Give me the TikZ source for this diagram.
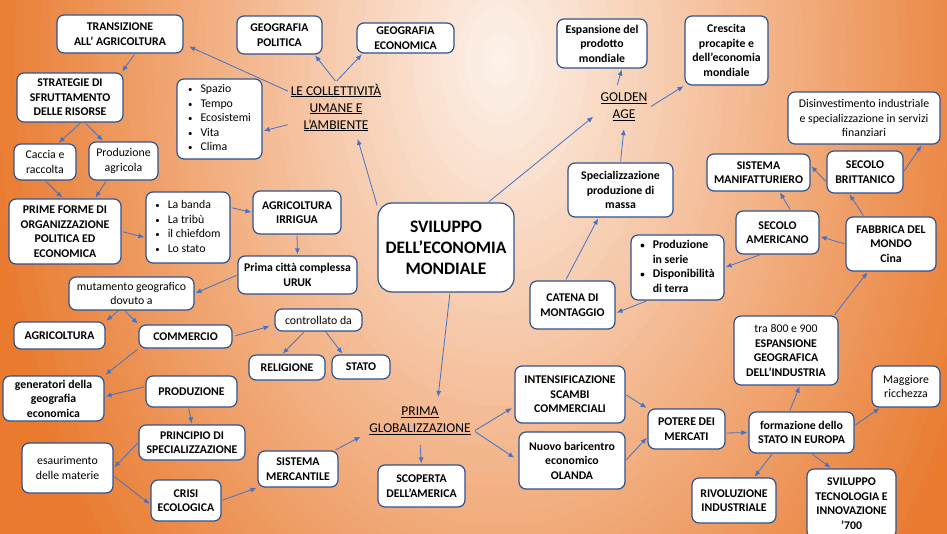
\documentclass[tikz,border=0pt]{standalone}
\usepackage{fontspec}
\setmainfont{Carlito}
\usetikzlibrary{arrows.meta}
\definecolor{boxc}{RGB}{47,82,143}
\definecolor{arrc}{RGB}{68,114,196}
\definecolor{bgorange}{RGB}{233,122,46}
\definecolor{bglight}{RGB}{253,243,236}
\newcommand{\bx}[7]{\node[#6,minimum width={(#4)-(#2)},minimum height={(#5)-(#3)}] (#1) at ({((#2)+(#4))/2},{((#3)+(#5))/2}) {#7};}
\newcommand{\blist}[1]{\begin{tabular}{@{}l@{\hspace{8pt}}l@{}}#1\end{tabular}}
\newcommand{\bul}{\scalebox{0.75}{\textbullet}}
\begin{document}
\begin{tikzpicture}[x=1pt,y=-1pt,
  box/.style={draw=boxc,line width=1.2pt,fill=white,rounded corners=7pt,align=center,inner sep=1pt,text=black,font=\fontsize{11.8}{14.5}\selectfont\bfseries},
  nbox/.style={box,font=\fontsize{11.8}{14.5}\selectfont},
  ul/.style={align=center,inner sep=0pt,text=black,font=\fontsize{13.5}{17}\selectfont},
  arr/.style={draw=arrc,line width=0.8pt,-{Latex[length=6pt,width=5pt]},shorten >=1pt,shorten <=1pt}]
\begin{scope}
\clip (0,0) rectangle (947,534);
\fill[bgorange] (0,0) rectangle (947,534);
\foreach \i in {0,...,59}{
  \pgfmathsetmacro\dd{1-\i/60}
  \pgfmathtruncatemacro\pp{100*\dd}
  \fill[bgorange!\pp!bglight] (500,60) ellipse [x radius={520*\dd}, y radius={800*\dd}];
}
\end{scope}
\useasboundingbox (0,0) rectangle (947,534);

\bx{trans}{57}{15}{183}{53}{box}{TRANSIZIONE\\ALL’ AGRICOLTURA}
\bx{geopol}{237}{16}{322}{54}{box}{GEOGRAFIA\\POLITICA}
\bx{geoeco}{357}{23}{454}{53}{box}{GEOGRAFIA\\ECONOMICA}
\bx{strat}{17}{73}{123}{122}{box}{STRATEGIE DI\\SFRUTTAMENTO\\DELLE RISORSE}
\bx{spazio}{177}{79}{262}{159}{nbox}{\blist{\bul&Spazio\\\bul&Tempo\\\bul&Ecosistemi\\\bul&Vita\\\bul&Clima}}
\bx{coll}{289}{82}{383}{133}{ul}{\underline{LE COLLETTIVITÀ}\\\underline{UMANE E}\\\underline{L’AMBIENTE}}
\bx{caccia}{14}{144}{76}{180}{nbox}{Caccia e\\raccolta}
\bx{prodag}{89}{142}{158}{180}{nbox}{Produzione\\agricola}
\bx{prime}{9}{199}{121}{264}{box}{PRIME FORME DI\\ORGANIZZAZIONE\\POLITICA ED\\ECONOMICA}
\bx{banda}{146}{192}{230}{263}{nbox}{\blist{\bul&La banda\\\bul&La tribù\\\bul&il chiefdom\\\bul&Lo stato}}
\bx{irrig}{253}{191}{341}{234}{box}{AGRICOLTURA\\IRRIGUA}
\bx{uruk}{238}{256}{357}{294}{box}{Prima città complessa\\URUK}
\bx{svil}{378}{203}{514}{292}{box,rounded corners=14pt,font=\fontsize{17.5}{21}\selectfont\bfseries}{SVILUPPO\\DELL’ECONOMIA\\MONDIALE}
\bx{mutam}{69}{277}{194}{310}{nbox}{mutamento geografico\\dovuto a}
\bx{agri}{14}{322}{105}{349}{box}{AGRICOLTURA}
\bx{comm}{139}{325}{232}{348}{box}{COMMERCIO}
\bx{contr}{275}{309}{362}{331}{nbox}{controllato da}
\bx{relig}{249}{355}{325}{380}{box}{RELIGIONE}
\bx{stato}{332}{355}{390}{379}{box}{STATO}
\bx{gener}{3}{376}{104}{421}{box}{generatori della\\geografia\\economica}
\bx{produz}{146}{376}{237}{407}{box}{PRODUZIONE}
\bx{princ}{139}{425}{245}{460}{box}{PRINCIPIO DI\\SPECIALIZZAZIONE}
\bx{esaur}{22}{443}{113}{493}{nbox}{esaurimento\\delle materie}
\bx{crisi}{151}{480}{221}{521}{box}{CRISI\\ECOLOGICA}
\bx{merc}{258}{451}{338}{487}{box}{SISTEMA\\MERCANTILE}
\bx{glob}{366}{398}{474}{444}{ul}{\underline{PRIMA}\\\underline{GLOBALIZZAZIONE}}
\bx{scop}{378}{465}{465}{507}{box}{SCOPERTA\\DELL’AMERICA}
\bx{espans}{557}{19}{647}{68}{box}{Espansione del\\prodotto\\mondiale}
\bx{cresc}{685}{16}{768}{85}{box}{Crescita\\procapite e\\dell’economia\\mondiale}
\bx{golden}{598}{86}{650}{128}{ul}{\underline{GOLDEN}\\\underline{AGE}}
\bx{disinv}{788}{92}{940}{144}{nbox}{Disinvestimento industriale\\e specializzazione in servizi\\finanziari}
\bx{manif}{707}{154}{810}{191}{box}{SISTEMA\\MANIFATTURIERO}
\bx{brit}{827}{151}{903}{193}{box}{SECOLO\\BRITTANICO}
\bx{specm}{568}{163}{673}{217}{box}{Specializzazione\\produzione di\\massa}
\bx{amer}{736}{211}{819}{254}{box}{SECOLO\\AMERICANO}
\bx{fabbr}{846}{217}{936}{271}{box}{FABBRICA DEL\\MONDO\\Cina}
\bx{prodser}{631}{235}{724}{300}{box}{\blist{\bul&Produzione\\&in serie\\\bul&Disponibilità\\&di terra}}
\bx{catena}{530}{281}{615}{329}{box}{CATENA DI\\MONTAGGIO}
\bx{espgeo}{734}{316}{838}{385}{box}{{\mdseries tra 800 e 900}\\ESPANSIONE\\GEOGRAFICA\\DELL’INDUSTRIA}
\bx{maggr}{872}{366}{940}{407}{nbox}{Maggiore\\ricchezza}
\bx{intens}{515}{366}{625}{423}{box}{INTENSIFICAZIONE\\SCAMBI\\COMMERCIALI}
\bx{nuovo}{519}{432}{625}{489}{box}{Nuovo baricentro\\economico\\OLANDA}
\bx{potere}{648}{409}{725}{449}{box}{POTERE DEI\\MERCATI}
\bx{formaz}{749}{412}{854}{453}{box}{formazione dello\\STATO IN EUROPA}
\bx{rivol}{692}{478}{776}{523}{box}{RIVOLUZIONE\\INDUSTRIALE}
\bx{svtec}{807}{469}{896}{538}{box}{SVILUPPO\\TECNOLOGIA E\\INNOVAZIONE\\’700}

\draw[arr,shorten >=6pt] ([yshift=16]coll.west) -- ([yshift=-10]trans.east);
\draw[arr] (coll.north) -- ([xshift=35]geopol.south);
\draw[arr] (coll.north) -- ([xshift=-43]geoeco.south);
\draw[arr] ([yshift=-17]coll.west) -- ([yshift=-12]spazio.east);
\draw[arr,shorten >=6pt] ([yshift=-4]svil.north west) -- ([xshift=20]coll.south);
\draw[arr] ([xshift=15]trans.south) -- ([xshift=-2]strat.north east);
\draw[arr] ([xshift=11]strat.south) -- ([xshift=13]caccia.north);
\draw[arr] ([xshift=15]strat.south) -- ([xshift=-20]prodag.north);
\draw[arr] (caccia.south) -- ([xshift=-2]prime.north);
\draw[arr] ([xshift=-17]prodag.south) -- ([xshift=30]prime.north);
\draw[arr] (prime.east) -- ([yshift=-10]banda.west);
\draw[arr] ([yshift=20]banda.east) -- (irrig.west);
\draw[arr] (irrig.south) -- (uruk.north);
\draw[arr] (uruk.west) -- (mutam.east);
\draw[arr] ([xshift=-13]mutam.south) -- (agri.north east);
\draw[arr] ([xshift=-7]mutam.south) -- (comm.north west);
\draw[arr,shorten <=3pt,shorten >=5pt] (comm.east) -- ([yshift=-5]contr.west);
\draw[arr] ([xshift=-14]contr.south) -- ([xshift=-5]relig.north);
\draw[arr] ([xshift=7]contr.south) -- ([xshift=-18]stato.north);
\draw[arr] (comm.south west) -- (gener.north east);
\draw[arr] ([yshift=5]produz.west) -- ([yshift=2]gener.east);
\draw[arr] ([xshift=-3]produz.south) -- (princ.north);
\draw[arr] (princ.west) -- (esaur.east);
\draw[arr] ([yshift=-8]esaur.east) -- ([yshift=-4]crisi.west);
\draw[arr] (crisi.east) -- (merc.south west);
\draw[arr,shorten >=6pt] ([xshift=-4]merc.north east) -- ([yshift=-13]glob.west);
\draw[arr] ([xshift=4]svil.south) -- ([xshift=18]glob.north);
\draw[arr] (glob.south) -- (scop.north);
\draw[arr,shorten >=3pt] ([yshift=-10]glob.east) -- ([yshift=-12]intens.west);
\draw[arr,shorten >=5pt] ([yshift=-10]glob.east) -- (nuovo.west);
\draw[arr] (intens.east) -- (potere.north west);
\draw[arr] (nuovo.east) -- ([yshift=-8]potere.west);
\draw[arr] ([yshift=-4]potere.east) -- (formaz.west);
\draw[arr] ([xshift=-12]formaz.north) -- ([xshift=14]espgeo.south);
\draw[arr] ([yshift=7]formaz.east) -- ([xshift=9]maggr.south west);
\draw[arr] ([xshift=-29]formaz.south) -- ([xshift=20]rivol.north);
\draw[arr] ([xshift=10]formaz.south) -- ([xshift=-20]svtec.north);
\draw[arr] ([xshift=48]espgeo.north) -- ([xshift=-23]fabbr.south);
\draw[arr] (fabbr.west) -- ([yshift=-4]amer.east);
\draw[arr] ([xshift=-27]fabbr.north) -- ([xshift=-16]brit.south);
\draw[arr] ([yshift=-10]brit.west) -- ([yshift=7]manif.east);
\draw[arr] (brit.east) -- ([xshift=58]disinv.south);
\draw[arr] ([xshift=13]amer.north) -- ([xshift=21]manif.south);
\draw[arr] ([xshift=-17]amer.south) -- (prodser.east);
\draw[arr] ([xshift=-30]prodser.south) -- ([yshift=-8]catena.east);
\draw[arr] ([xshift=-7]catena.north) -- ([xshift=-22]specm.south);
\draw[arr] (specm.north) -- (golden.south);
\draw[arr,shorten >=6pt] ([xshift=42]svil.north) -- ([yshift=-6]golden.west);
\draw[arr] ([xshift=-7]golden.north) -- ([xshift=20]espans.south);
\draw[arr] (golden.east) -- (cresc.south west);
\end{tikzpicture}
\end{document}
